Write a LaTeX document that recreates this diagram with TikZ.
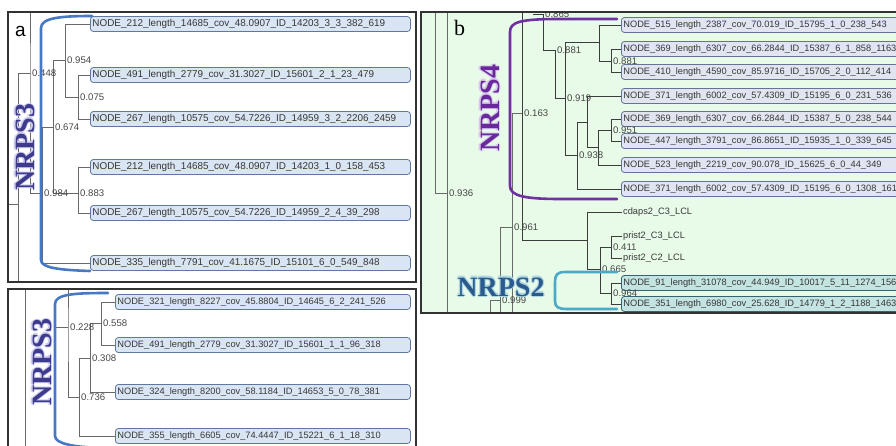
\documentclass[tikz,border=0pt]{standalone}
\usepackage{fontspec}
\setmainfont{Liberation Serif}
\setsansfont{Liberation Sans}
\definecolor{linegray}{RGB}{105,105,105}
\definecolor{darkline}{RGB}{60,60,60}
\definecolor{leaffill}{RGB}{218,229,244}
\definecolor{leafdraw}{RGB}{95,120,160}
\definecolor{bleaffill}{RGB}{224,229,240}
\definecolor{bleafdraw}{RGB}{100,115,150}
\definecolor{tealfill}{RGB}{196,228,226}
\definecolor{tealdraw}{RGB}{50,100,115}
\definecolor{mint}{RGB}{232,250,232}
\definecolor{framecol}{RGB}{50,50,50}
\definecolor{brkblue}{RGB}{70,120,195}
\definecolor{brkpurple}{RGB}{112,48,160}
\definecolor{brkcyan}{RGB}{75,170,200}
\definecolor{nrpsthree}{RGB}{62,58,140}
\definecolor{nrpsfour}{RGB}{105,40,155}
\definecolor{nrpstwo}{RGB}{45,90,140}
\definecolor{haloA}{RGB}{205,205,240}
\definecolor{haloB}{RGB}{215,200,235}
\definecolor{haloC}{RGB}{170,215,225}
\definecolor{textgray}{RGB}{55,55,55}
\definecolor{labgray}{RGB}{70,70,70}
\newcommand\glowtext[3]{\leavevmode\rlap{\color{#1}\kern1.2pt #3}\rlap{\color{#1}\kern-1.2pt #3}\rlap{\color{#1}\raisebox{1.2pt}{#3}}\rlap{\color{#1}\raisebox{-1.2pt}{#3}}{\color{#2}#3}}
\tikzset{
  tree/.style={draw=linegray, line width=0.9pt},
  treeb/.style={draw=darkline, line width=0.9pt},
  panelframe/.style={draw=framecol, line width=1.3pt},
  leafbase/.style={rounded corners=3pt, line width=0.8pt, anchor=west, minimum height=15pt,
    inner ysep=0pt, inner xsep=2pt, align=left, text=textgray},
  leafa/.style={leafbase, draw=leafdraw, fill=leaffill, text width=316pt, font=\sffamily\fontsize{9.9}{10}\selectfont},
  leafc/.style={leafbase, draw=leafdraw, fill=leaffill, text width=291pt, font=\sffamily\fontsize{9.25}{10}\selectfont},
  leafb/.style={leafbase, draw=bleafdraw, fill=bleaffill, text width=300pt, font=\sffamily\fontsize{9.25}{10}\selectfont},
  leaft/.style={leafbase, draw=tealdraw, fill=tealfill, text width=300pt, font=\sffamily\fontsize{9.25}{10}\selectfont},
  plainleaf/.style={anchor=west, inner sep=1pt, text=textgray, font=\sffamily\fontsize{9.25}{10}\selectfont},
  lab/.style={anchor=west, inner sep=0pt, xshift=2pt, text=labgray, font=\sffamily\fontsize{9.6}{10}\selectfont},
  nrps/.style={inner sep=0pt, font=\bfseries\fontsize{28}{30}\selectfont},
  bracket/.style={line width=2.6pt, line cap=round}
}
\begin{document}
\begin{tikzpicture}[x=1pt,y=-1pt]
\useasboundingbox (0,0) rectangle (896,446);
\begin{scope}
\clip (0,0) rectangle (896,446);

% ================= panel a =================
\node[leafa] (a1) at (90,24)  {NODE\_212\_length\_14685\_cov\_48.0907\_ID\_14203\_3\_3\_382\_619};
\node[leafa] (a2) at (90,75)  {NODE\_491\_length\_2779\_cov\_31.3027\_ID\_15601\_2\_1\_23\_479};
\node[leafa] (a3) at (90,119) {NODE\_267\_length\_10575\_cov\_54.7226\_ID\_14959\_3\_2\_2206\_2459};
\node[leafa] (a4) at (90,167) {NODE\_212\_length\_14685\_cov\_48.0907\_ID\_14203\_1\_0\_158\_453};
\node[leafa] (a5) at (90,213) {NODE\_267\_length\_10575\_cov\_54.7226\_ID\_14959\_2\_4\_39\_298};
\node[leafa] (a6) at (90,263) {NODE\_335\_length\_7791\_cov\_41.1675\_ID\_15101\_6\_0\_549\_848};

\coordinate (ra0in) at (8,204);
\coordinate (ra0) at (18,204);
\coordinate (ra0bot) at (18,282);
\coordinate (n448) at (30,73);
\coordinate (n448top) at (30,12);
\coordinate (n984) at (42,193);
\coordinate (n674) at (53,127);
\coordinate (n954) at (65,60);
\coordinate (n075) at (78,97);
\coordinate (n883) at (78,193);
\draw[tree] (ra0in) -- (ra0) -- (ra0bot);
\draw[tree] (ra0) |- (n448);
\draw[tree] (n448top) -- (n448) |- (n984);
\draw[tree] (n984) |- (n674);
\draw[tree] (n984) |- (a6.west);
\draw[tree] (n674) |- (n954);
\draw[tree] (n674) |- (n883);
\draw[tree] (n954) |- (a1.west);
\draw[tree] (n954) |- (n075);
\draw[tree] (n075) |- (a2.west);
\draw[tree] (n075) |- (a3.west);
\draw[tree] (n883) |- (a4.west);
\draw[tree] (n883) |- (a5.west);
\node[lab] (l448) at (n448) {0.448};
\node[lab] (l984) at (n984) {0.984};
\node[lab] (l674) at (n674) {0.674};
\node[lab] (l954) at (n954) {0.954};
\node[lab] (l075) at (n075) {0.075};
\node[lab] (l883) at (n883) {0.883};

\draw[bracket, brkblue] (92,16) .. controls (60,16) and (41,18) .. (41,28) -- (41,260)
  .. controls (41,268) and (60,270) .. (90,271);
\node[nrps, rotate=90] (nrpsA) at (25,147) {\glowtext{haloA}{nrpsthree}{NRPS3}};
\node[anchor=base west, inner sep=0pt, font=\sffamily\fontsize{19}{20}\selectfont] (tagA) at (15,37) {a};
\draw[panelframe] (8,12) rectangle (416,282);

% ================= panel c =================
\node[leafc] (c1) at (115,302) {NODE\_321\_length\_8227\_cov\_45.8804\_ID\_14645\_6\_2\_241\_526};
\node[leafc] (c2) at (115,345) {NODE\_491\_length\_2779\_cov\_31.3027\_ID\_15601\_1\_1\_96\_318};
\node[leafc] (c3) at (115,392) {NODE\_324\_length\_8200\_cov\_58.1184\_ID\_14653\_5\_0\_78\_381};
\node[leafc] (c4) at (115,436) {NODE\_355\_length\_6605\_cov\_74.4447\_ID\_15221\_6\_1\_18\_310};
\coordinate (rc0top) at (25,289);
\coordinate (rc0bot) at (25,446);
\coordinate (n228in) at (55,327);
\coordinate (n228) at (68,327);
\coordinate (n228top) at (68,289);
\coordinate (n736) at (79,397);
\coordinate (n308) at (90,358);
\coordinate (n558) at (101,323);
\draw[tree] (rc0top) -- (rc0bot);
\draw[tree] (n228in) -- (n228);
\draw[tree] (n228top) -- (n228) |- (n736);
\draw[tree] (n736) |- (n308);
\draw[tree] (n736) |- (c4.west);
\draw[tree] (n308) |- (n558);
\draw[tree] (n308) |- (c3.west);
\draw[tree] (n558) |- (c1.west);
\draw[tree] (n558) |- (c2.west);
\node[lab] (l228) at (n228) {0.228};
\node[lab] (l736) at (n736) {0.736};
\node[lab] (l308) at (n308) {0.308};
\node[lab] (l558) at (n558) {0.558};
\draw[bracket, brkblue] (108,293) .. controls (75,293) and (55,294) .. (55,304) -- (55,436)
  .. controls (55,444) and (75,447) .. (100,448);
\node[nrps, rotate=90] (nrpsC) at (42,362) {\glowtext{haloA}{nrpsthree}{NRPS3}};
\draw[panelframe] (8,289) rectangle (416,452);

% ================= panel b =================
\fill[mint] (421,12) rectangle (905,313);
\begin{scope}
\clip (421,12) rectangle (905,313);
\node[leafb] (b1) at (621,25)  {NODE\_515\_length\_2387\_cov\_70.019\_ID\_15795\_1\_0\_238\_543};
\node[leafb] (b2) at (621,49)  {NODE\_369\_length\_6307\_cov\_66.2844\_ID\_15387\_6\_1\_858\_1163};
\node[leafb] (b3) at (621,72)  {NODE\_410\_length\_4590\_cov\_85.9716\_ID\_15705\_2\_0\_112\_414};
\node[leafb] (b4) at (621,96)  {NODE\_371\_length\_6002\_cov\_57.4309\_ID\_15195\_6\_0\_231\_536};
\node[leafb] (b5) at (621,119) {NODE\_369\_length\_6307\_cov\_66.2844\_ID\_15387\_5\_0\_238\_544};
\node[leafb] (b6) at (621,141) {NODE\_447\_length\_3791\_cov\_86.8651\_ID\_15935\_1\_0\_339\_645};
\node[leafb] (b7) at (621,165) {NODE\_523\_length\_2219\_cov\_90.078\_ID\_15625\_6\_0\_44\_349};
\node[leafb] (b8) at (621,189) {NODE\_371\_length\_6002\_cov\_57.4309\_ID\_15195\_6\_0\_1308\_161};
\node[plainleaf] (t1) at (622,212) {cdaps2\_C3\_LCL};
\node[plainleaf] (t2) at (622,236) {prist2\_C3\_LCL};
\node[plainleaf] (t3) at (622,258) {prist2\_C2\_LCL};
\node[leaft] (b9)  at (621,283) {NODE\_91\_length\_31078\_cov\_44.949\_ID\_10017\_5\_11\_1274\_156};
\node[leaft] (b10) at (621,304) {NODE\_351\_length\_6980\_cov\_25.628\_ID\_14779\_1\_2\_1188\_1463};

\coordinate (p435top) at (435,12);
\coordinate (n936) at (447,193);
\coordinate (n936top) at (447,12);
\coordinate (n936bot) at (447,315);
\coordinate (n999in) at (490,300);
\coordinate (n999in0) at (490,315);
\coordinate (n999) at (500,300);
\coordinate (n999bot) at (500,315);
\coordinate (n961) at (512,227);
\coordinate (n961bot) at (512,315);
\coordinate (n163) at (522,113);
\coordinate (n163top) at (522,12);
\coordinate (nx587) at (587,240);
\coordinate (n665) at (600,269);
\coordinate (n411) at (611,247);
\coordinate (n964) at (611,293);
\draw[tree] (p435top) |- (n936);
\draw[tree] (n936top) -- (n936bot);
\draw[tree] (n999in0) -- (n999in) -- (n999) -- (n999bot);
\draw[tree] (n999) |- (n961);
\draw[tree] (n961) -- (n961bot);
\draw[tree] (n961) |- (n163);
\draw[treeb] (n163top) -- (n163);
\draw[treeb] (n163) |- (nx587);
\draw[treeb] (nx587) |- (t1.west);
\draw[treeb] (nx587) |- (n665);
\draw[treeb] (n665) |- (n411);
\draw[treeb] (n665) |- (n964);
\draw[treeb] (n411) |- (t2.west);
\draw[treeb] (n411) |- (t3.west);
\draw[treeb] (n964) |- (b9.west);
\draw[treeb] (n964) |- (b10.west);

\coordinate (n865in) at (533,14);
\coordinate (n865) at (543,14);
\coordinate (n881a) at (555,50);
\coordinate (n919) at (565,98);
\coordinate (nx599) at (599,42);
\coordinate (n881b) at (611,61);
\coordinate (n938) at (577,155);
\coordinate (nA) at (587,122);
\coordinate (nB) at (598,147);
\coordinate (n951) at (611,130);
\draw[treeb] (n865in) -- (n865) |- (n881a);
\draw[treeb] (n881a) |- (n919);
\draw[treeb] (n919) |- (nx599);
\draw[treeb] (n919) |- (n938);
\draw[treeb] (nx599) |- (b1.west);
\draw[treeb] (nx599) |- (n881b);
\draw[treeb] (n881b) |- (b2.west);
\draw[treeb] (n881b) |- (b3.west);
\draw[treeb] (n938) |- (nA);
\draw[treeb] (n938) |- (b8.west);
\draw[treeb] (nA) |- (b4.west);
\draw[treeb] (nA) |- (nB);
\draw[treeb] (nB) |- (n951);
\draw[treeb] (nB) |- (b7.west);
\draw[treeb] (n951) |- (b5.west);
\draw[treeb] (n951) |- (b6.west);

\node[lab] (l936) at (n936) {0.936};
\node[lab] (l999) at (n999) {0.999};
\node[lab] (l961) at (n961) {0.961};
\node[lab] (l163) at (n163) {0.163};
\node[lab] (l411) at (n411) {0.411};
\node[lab] (l665) at (n665) {0.665};
\node[lab] (l964) at (n964) {0.964};
\node[lab] (l865) at (n865) {0.865};
\node[lab] (l881a) at (n881a) {0.881};
\node[lab] (l919) at (n919) {0.919};
\node[lab] (l938) at (n938) {0.938};
\node[lab] (l881b) at (n881b) {0.881};
\node[lab] (l951) at (n951) {0.951};

\draw[bracket, brkpurple] (617,19) -- (560,19) .. controls (520,19) and (510,22) .. (510,32) -- (510,186)
  .. controls (510,196) and (525,199) .. (560,199) -- (617,199);
\draw[bracket, brkcyan] (617,272) -- (565,272) .. controls (557,272) and (555,275) .. (555,282) -- (555,301)
  .. controls (555,307) and (558,309) .. (567,309) -- (617,309);
\node[nrps, rotate=90] (nrpsB) at (490,108) {\glowtext{haloB}{nrpsfour}{NRPS4}};
\node[nrps] (nrpsD) at (501,287) {\glowtext{haloC}{nrpstwo}{NRPS2}};
\node[anchor=base west, inner sep=0pt, font=\fontsize{22}{24}\selectfont] (tagB) at (454,36) {b};
\end{scope}
\draw[panelframe] (421,12) rectangle (905,313);
\end{scope}
\end{tikzpicture}
\end{document}
